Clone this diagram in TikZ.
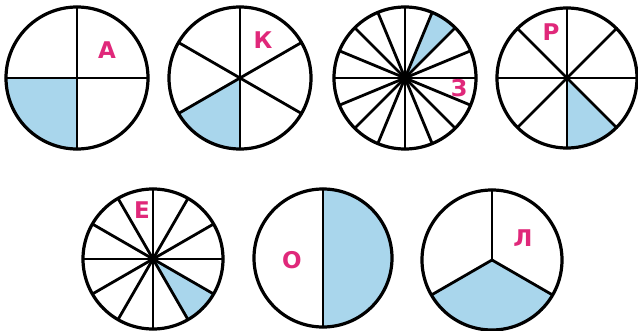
\documentclass[tikz,border=0pt]{standalone}
\usepackage{fontspec}
\setmainfont{DejaVu Sans}
\definecolor{pieblue}{HTML}{A9D6EC}
\definecolor{piepink}{HTML}{E0287A}
\tikzset{
  rim/.style={line width=3.2pt, draw=black},
  spoke/.style={line width=2.8pt, draw=black, line cap=round},
  shadefill/.style={fill=pieblue},
  letter/.style={text=piepink, font=\bfseries\fontsize{23}{23}\selectfont, inner sep=0pt}
}
% #1 center name, #2 x, #3 y, #4 radius, #5 sector count, #6 start angle of lines, #7 shade from, #8 shade to
\newcommand\mypie[8]{%
  \coordinate (#1) at (#2,#3);
  \fill[shadefill] (#1) -- ++(#7:#4) arc[start angle=#7, end angle=#8, radius=#4] -- cycle;
  \pgfmathsetmacro\mystep{360/#5}
  \foreach \k in {1,...,#5} {\draw[spoke] (#1) -- ++({#6+\k*\mystep}:#4);}
  \draw[rim] (#1) circle[radius=#4];
}
\begin{document}
\begin{tikzpicture}[x=1pt,y=1pt]
\fill[white] (0,0) rectangle (638,330);
\useasboundingbox (0,0) rectangle (638,330);
\mypie{cA}{77}{252}{71}{4}{0}{180}{270}
\mypie{cK}{240}{252}{71}{6}{30}{210}{270}
\mypie{cZ}{405}{252}{71}{16}{0}{45}{67.5}
\mypie{cR}{567}{252}{70}{8}{0}{270}{315}
\mypie{cE}{153}{71}{70}{12}{0}{300}{330}
\mypie{cO}{323}{72}{69}{2}{90}{-90}{90}
\mypie{cL}{492}{70}{70}{3}{90}{210}{330}
\node[letter] (lA) at (107,280) {А};
\node[letter] (lK) at (263,290) {К};
\node[letter] (lZ) at (459,242) {З};
\node[letter] (lR) at (551,298) {Р};
\node[letter] (lE) at (142,120) {Е};
\node[letter] (lO) at (292,70) {О};
\node[letter] (lL) at (523,92) {Л};
\end{tikzpicture}
\end{document}
